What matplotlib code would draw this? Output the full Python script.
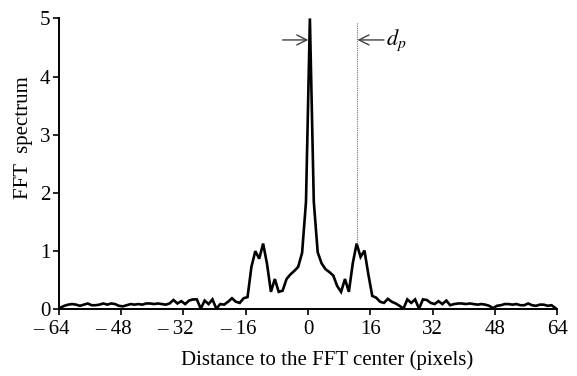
import matplotlib
matplotlib.use("Agg")
import matplotlib.pyplot as plt
from matplotlib.transforms import ScaledTranslation
import numpy as np

plt.rcParams['font.family'] = ['Liberation Serif', 'DejaVu Serif']
plt.rcParams['mathtext.fontset'] = 'stix'

# positions des echantillons (grille FFT de 128 points)
distance = np.arange(-64, 64) + 0.5

# spectre, cote gauche (-63.5 .. -0.5)
spectre_gauche = [
    0.03, 0.06, 0.08, 0.09, 0.08, 0.06, 0.08, 0.10,
    0.07, 0.07, 0.08, 0.10, 0.08, 0.10, 0.09, 0.06,
    0.05, 0.07, 0.09, 0.08, 0.09, 0.08, 0.10, 0.10,
    0.09, 0.10, 0.09, 0.08, 0.10, 0.16, 0.10, 0.14,
    0.09, 0.15, 0.17, 0.17, 0.01, 0.15, 0.09, 0.17,
    0.01, 0.09, 0.08, 0.13, 0.19, 0.13, 0.11, 0.19,
    0.21, 0.73, 1.00, 0.87, 1.13, 0.78, 0.30, 0.52,
    0.30, 0.32, 0.52, 0.60, 0.66, 0.73, 0.97, 1.85,
]
# spectre, cote droit (0.5 .. 63.5)
spectre_droit = [
    5.00, 1.85, 0.98, 0.79, 0.69, 0.64, 0.58, 0.40,
    0.30, 0.52, 0.30, 0.79, 1.13, 0.90, 1.01, 0.60,
    0.23, 0.20, 0.13, 0.11, 0.18, 0.13, 0.10, 0.06,
    0.01, 0.17, 0.11, 0.17, 0.01, 0.17, 0.16, 0.11,
    0.09, 0.14, 0.09, 0.15, 0.07, 0.09, 0.10, 0.10,
    0.09, 0.10, 0.09, 0.08, 0.09, 0.08, 0.06, 0.02,
    0.06, 0.07, 0.09, 0.09, 0.08, 0.09, 0.07, 0.07,
    0.10, 0.07, 0.06, 0.08, 0.08, 0.06, 0.07, 0.02,
]
spectre = np.array(spectre_gauche + spectre_droit)

xticks = [-64, -48, -32, -16, 0, 16, 32, 48, 64]
xtick_labels = ["\u2013 64", "\u2013 48", "\u2013 32", "\u2013 16", "0", "16", "32", "48", "64"]
yticks = [0, 1, 2, 3, 4, 5]

fig = plt.figure(figsize=(5.77, 3.76), dpi=100)
ax = fig.add_axes([0.1014, 0.1774, 0.8646, 0.7736])

ax.plot(distance, spectre, color='black', lw=1.9, solid_joinstyle='miter')

# ligne pointillee au pic secondaire
i_pic = 64 + 12
ax.plot([distance[i_pic], distance[i_pic]], [spectre[i_pic], 4.94],
        color='0.45', lw=0.8, ls=(0, (1, 1)))

# fleches d_p
i_centre = 64
ax.annotate('', xy=(distance[i_centre] - 0.4, 4.63), xytext=(-6.5, 4.63),
            arrowprops=dict(arrowstyle='->', color='0.25', lw=1.0,
                            mutation_scale=18, shrinkA=0, shrinkB=0))
ax.annotate('', xy=(distance[i_pic] + 0.2, 4.63), xytext=(19.5, 4.63),
            arrowprops=dict(arrowstyle='->', color='0.25', lw=1.0,
                            mutation_scale=18, shrinkA=0, shrinkB=0))
ax.text(20.0, 4.63, r'$d_p$', fontsize=16, va='center', ha='left')

ax.set_xlim(-64, 64)
ax.set_ylim(0, 5)
ax.set_xticks(xticks)
ax.set_xticklabels(xtick_labels)
ax.set_yticks(yticks)
ax.spines['top'].set_visible(False)
ax.spines['right'].set_visible(False)
for s in ['left', 'bottom']:
    ax.spines[s].set_linewidth(1.4)
ax.tick_params(axis='both', direction='out', length=4, width=1.2,
               labelsize=15, pad=2)
ax.tick_params(axis='x', pad=4)

# les chiffres negatifs restent centres sur le tick, le tiret deborde a gauche
decal = ScaledTranslation(-0.075, 0, fig.dpi_scale_trans)
for t, lab in zip(xticks, ax.get_xticklabels()):
    if t < 0:
        lab.set_transform(lab.get_transform() + decal)

ax.set_xlabel('Distance to the FFT center (pixels)', fontsize=15)
ax.set_ylabel('FFT  spectrum', fontsize=15)
ax.xaxis.set_label_coords(0.538, -0.14)
ax.yaxis.set_label_coords(-0.052, 0.59)

fig.savefig('out.png', dpi=100)
